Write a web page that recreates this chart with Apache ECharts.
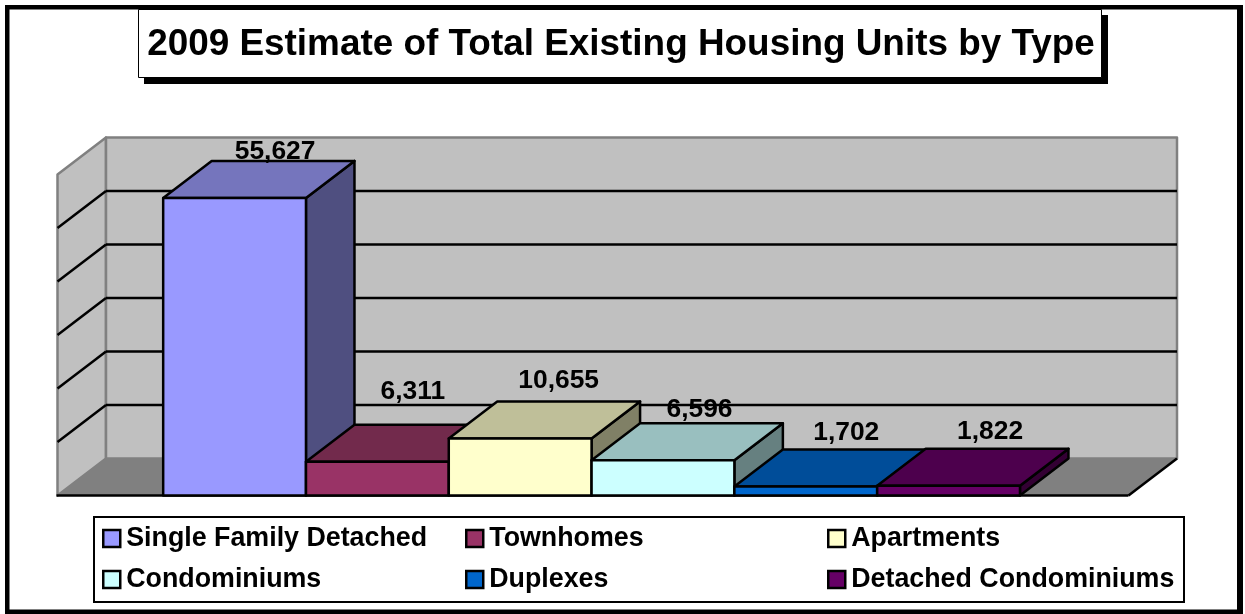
<!DOCTYPE html>
<html>
<head>
<meta charset="utf-8">
<style>html,body{margin:0;padding:0;background:#fff}#c{width:1245px;height:614px}</style>
<script src="https://cdn.jsdelivr.net/npm/echarts@6/dist/echarts.min.js"></script>
</head>
<body>
<div id="c"></div>
<script>
const chartTitle = '2009 Estimate of Total Existing Housing Units by Type';
const categories = ['Single Family Detached','Townhomes','Apartments','Condominiums','Duplexes','Detached Condominiums'];
const values = [55627, 6311, 10655, 6596, 1702, 1822];
const yTicks = [10000, 20000, 30000, 40000, 50000];
const frontColors = ['#9999FF','#993366','#FFFFCC','#CCFFFF','#0066CC','#660066'];
const topColors = ['#7575BD','#722A4C','#BFBF99','#99BFBF','#004D99','#4D004D'];
const sideColors = ['#4F4F80','#4D1A33','#808066','#668080','#003366','#330033'];
const labelShift = [[-8,-9],[-13,-33],[-10,-21],[-12,-13],[-8,-17],[-7,-17]];
const legendSpots = [[102,537],[465,537],[827,537],[102,578],[465,578],[827,578]];

const DX = 48.5, DY = -37, FONT = 'Liberation Sans, Arial, sans-serif';
const YMAX = 60000, XMIN = -0.74, XMAX = 6.76;

function poly(points, fill, stroke, lw){
  return {type:'polygon', shape:{points}, style:{fill, stroke:stroke||'#000', lineWidth:lw==null?2.5:lw, lineJoin:'round'}};
}
function line(a,b,stroke,lw){
  return {type:'line', shape:{x1:a[0],y1:a[1],x2:b[0],y2:b[1]}, style:{stroke, lineWidth:lw}};
}
function back(p){return [p[0]+DX,p[1]+DY];}

function renderWalls(params, api){
  const bl = api.coord([XMIN,0]), br = api.coord([XMAX,0]);
  const tl = api.coord([XMIN,YMAX]), tr = api.coord([XMAX,YMAX]);
  const kids = [
    poly([bl,tl,back(tl),back(bl)],'#C0C0C0','#808080',2.5),
    poly([back(tl),back(tr),back(br),back(bl)],'#C0C0C0','#808080',2.5),
    poly([bl,back(bl),back(br),br],'#808080','#808080',1)
  ];
  yTicks.forEach(v=>{
    const a = api.coord([XMIN,v]), b = api.coord([XMAX,v]);
    kids.push(line(a,back(a),'#000',2.5));
    kids.push(line(back(a),back(b),'#000',2.5));
  });
  kids.push(line([bl[0]-1,bl[1]],br,'#000',2.5));
  kids.push(line(br,back(br),'#000',2.5));
  return {type:'group',children:kids};
}

function renderBar(idx){
  return function(params, api){
    const i = api.value(0), v = api.value(1);
    const f0 = api.coord([i,0]), f1 = api.coord([i+1,0]);
    const t0 = api.coord([i,v]), t1 = api.coord([i+1,v]);
    const s = labelShift[idx];
    const bt = back(t0), bt1 = back(t1);
    return {type:'group',children:[
      poly([f1,t1,bt1,back(f1)],sideColors[idx]),
      poly([t0,bt,bt1,t1],topColors[idx]),
      poly([f0,t0,t1,f1],frontColors[idx]),
      {type:'text',z2:100,style:{
        text:v.toLocaleString('en-US'),
        x:(bt[0]+bt1[0])/2+s[0], y:bt[1]+s[1],
        textAlign:'center',textVerticalAlign:'middle',
        font:'bold 26.4px '+FONT,fill:'#000'
      }}
    ]};
  };
}

const series = [{
  type:'custom', name:'walls', silent:true, z:1,
  data:[[0,0]], encode:{x:0,y:1}, renderItem:renderWalls
}].concat(categories.map((name,i)=>({
  type:'custom', name, z:2+i, silent:true,
  itemStyle:{color:frontColors[i]},
  data:[[i,values[i]]], encode:{x:0,y:1},
  renderItem:renderBar(i)
})));

const legends = categories.map((name,i)=>({
  data:[name], orient:'horizontal', selectedMode:false, icon:'rect',
  left:legendSpots[i][0], top:legendSpots[i][1]-16, padding:0,
  itemWidth:17, itemHeight:17, itemGap:0,
  itemStyle:{borderColor:'#000',borderWidth:2.5},
  textStyle:{fontFamily:FONT,fontWeight:'bold',fontSize:26.8,color:'#000',lineHeight:34,padding:[1,0,0,1]}
}));

const chart = echarts.init(document.getElementById('c'),null,{renderer:'canvas'});
chart.setOption({
  animation:false,
  backgroundColor:'#fff',
  title:{text:chartTitle,left:621,top:22,textAlign:'center',padding:0,
    textStyle:{fontFamily:FONT,fontWeight:'bold',fontSize:36.9,color:'#000',lineHeight:46}},
  grid:{left:57.5,top:174.5,width:1071,height:321,containLabel:false},
  xAxis:{type:'value',min:XMIN,max:XMAX,show:false},
  yAxis:{type:'value',min:0,max:YMAX,interval:10000,show:false},
  legend:legends,
  graphic:[
    {type:'rect',z:-10,shape:{x:5,y:5,width:1238,height:609},style:{fill:'#000'}},
    {type:'rect',z:-9,shape:{x:9.5,y:9.5,width:1227.5,height:600},style:{fill:'#fff'}},
    {type:'rect',z:-8,shape:{x:144,y:15,width:964,height:69},style:{fill:'#000'}},
    {type:'rect',z:-7,shape:{x:138.5,y:9.5,width:963,height:68},style:{fill:'#fff',stroke:'#000',lineWidth:1}},
    {type:'rect',z:-6,shape:{x:94,y:517,width:1090,height:85},style:{fill:'#fff',stroke:'#000',lineWidth:2}}
  ],
  series
});
</script>
</body>
</html>
